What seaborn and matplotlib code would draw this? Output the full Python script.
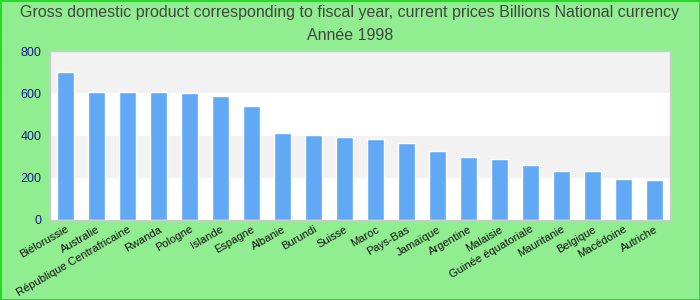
import matplotlib
matplotlib.use("Agg")
import matplotlib.pyplot as plt
import seaborn as sns
import pandas as pd

categories = ["Biélorussie", "Australie", "République Centrafricaine", "Rwanda", "Pologne",
              "Islande", "Espagne", "Albanie", "Burundi", "Suisse", "Maroc", "Pays-Bas",
              "Jamaïque", "Argentine", "Malaisie", "Guinée équatoriale", "Mauritanie",
              "Belgique", "Macédoine", "Autriche"]
values = [702, 607, 607, 607, 602, 588, 541, 413, 403, 394, 384, 365, 327, 299, 289, 261,
          232, 232, 194, 190]
yticks = [0, 200, 400, 600, 800]
title_line1 = "Gross domestic product corresponding to fiscal year, current prices Billions National currency"
title_line2 = "Année 1998"

sns.set_theme(style="white")
plt.rcParams['font.family'] = ['Liberation Sans', 'DejaVu Sans']

df = pd.DataFrame({"country": categories, "value": values})

fig = plt.figure(figsize=(7, 3), dpi=100, facecolor="#90ee90")
fig.patch.set_edgecolor("#22dd22")
fig.patch.set_linewidth(2)
ax = fig.add_axes([50 / 700, 1 - 220 / 300, 620 / 700, 169 / 300])
ax.set_facecolor("white")

# background bands
for i in range(len(yticks) - 1):
    if i % 2 == 1:
        ax.axhspan(yticks[i], yticks[i + 1], color="#f2f2f2", zorder=0, lw=0)

sns.barplot(data=df, x="country", y="value", color="#61a9f4", saturation=1,
            width=0.55, ax=ax, zorder=2)

ax.set_ylim(0, 800)
ax.set_xlim(-0.5, len(categories) - 0.5)
ax.set_yticks(yticks)
ax.set_yticklabels([str(t) for t in yticks], color="#1a1a8c", fontsize=9)
ax.set_xlabel("")
ax.set_ylabel("")
ax.tick_params(axis="both", length=0, pad=6)
ax.tick_params(axis="x", pad=3)
for lbl in ax.get_xticklabels():
    lbl.set_rotation(30)
    lbl.set_ha("right")
    lbl.set_rotation_mode("anchor")
    lbl.set_fontsize(8)
    lbl.set_color("#111111")
for s in ax.spines.values():
    s.set_color("#cccccc")
    s.set_linewidth(1)

fig.text(0.5, 1 - 12 / 300, title_line1, ha="center", va="center", fontsize=11.5, color="#444444")
fig.text(0.5, 1 - 35 / 300, title_line2, ha="center", va="center", fontsize=11.5, color="#444444")

fig.savefig("out.png", dpi=100, facecolor=fig.get_facecolor(), edgecolor=fig.patch.get_edgecolor())
